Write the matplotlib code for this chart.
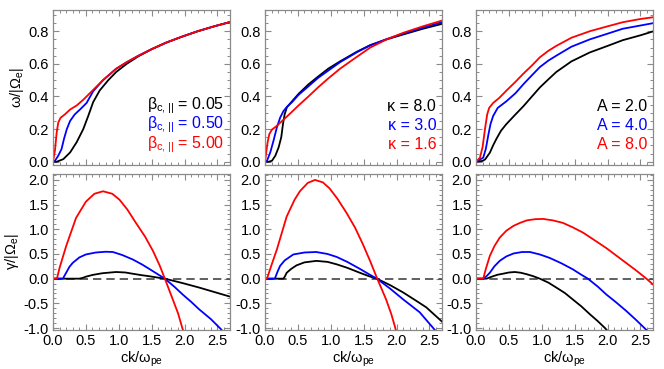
import matplotlib
matplotlib.use("Agg")
import matplotlib.pyplot as plt
from matplotlib.ticker import MultipleLocator, FormatStrFormatter

plt.rcParams['font.family'] = ['Liberation Sans', 'DejaVu Sans']
plt.rcParams['mathtext.fontset'] = 'custom'
plt.rcParams['mathtext.rm'] = 'Liberation Sans'

# ---------------- data ----------------
# Panel 1: beta_c,|| variation
p1_omega_black_k = [0.0, 0.056, 0.157, 0.26, 0.36, 0.46, 0.535, 0.61, 0.71, 0.84, 0.96, 1.12, 1.3, 1.5, 1.72, 1.95, 2.2, 2.45, 2.68]
p1_omega_black_w = [0.0, 0.0, 0.016, 0.057, 0.12, 0.20, 0.28, 0.365, 0.437, 0.50, 0.55, 0.60, 0.647, 0.69, 0.73, 0.765, 0.80, 0.83, 0.855]
p1_omega_blue_k = [0.0, 0.03, 0.08, 0.13, 0.167, 0.21, 0.26, 0.33, 0.41, 0.51, 0.61, 0.76, 0.96, 1.12, 1.3, 1.5, 1.72, 1.95, 2.2, 2.45, 2.68]
p1_omega_blue_w = [0.0, 0.006, 0.037, 0.078, 0.14, 0.20, 0.25, 0.29, 0.32, 0.36, 0.432, 0.50, 0.57, 0.61, 0.65, 0.69, 0.73, 0.765, 0.80, 0.83, 0.855]
p1_omega_red_k = [0.0, 0.03, 0.056, 0.08, 0.116, 0.18, 0.26, 0.36, 0.46, 0.61, 0.76, 0.96, 1.12, 1.3, 1.5, 1.72, 1.95, 2.2, 2.45, 2.68]
p1_omega_red_w = [0.0, 0.07, 0.18, 0.24, 0.27, 0.29, 0.32, 0.345, 0.38, 0.44, 0.50, 0.57, 0.61, 0.65, 0.69, 0.73, 0.765, 0.80, 0.83, 0.855]

p1_gamma_black_k = [0.0, 0.4, 0.45, 0.5, 0.6, 0.75, 0.96, 1.1, 1.21, 1.35, 1.46, 1.60, 1.70, 1.85, 1.97, 2.22, 2.45, 2.68]
p1_gamma_black_g = [0.0, 0.0, 0.015, 0.04, 0.075, 0.11, 0.135, 0.125, 0.10, 0.07, 0.05, 0.02, 0.0, -0.05, -0.09, -0.18, -0.27, -0.36]
p1_gamma_blue_k = [0.0, 0.15, 0.2, 0.25, 0.3, 0.4, 0.5, 0.65, 0.8, 0.91, 1.05, 1.21, 1.35, 1.46, 1.58, 1.70, 1.85, 1.97, 2.1, 2.22, 2.4, 2.55, 2.6]
p1_gamma_blue_g = [0.0, 0.0, 0.12, 0.24, 0.32, 0.43, 0.49, 0.53, 0.545, 0.54, 0.48, 0.39, 0.29, 0.20, 0.10, 0.0, -0.17, -0.32, -0.47, -0.62, -0.82, -1.02, -1.1]
p1_gamma_red_k = [0.0, 0.06, 0.1, 0.2, 0.35, 0.5, 0.63, 0.76, 0.9, 1.01, 1.13, 1.26, 1.4, 1.52, 1.62, 1.70, 1.82, 1.9, 1.97, 2.0]
p1_gamma_red_g = [0.0, 0.0, 0.22, 0.66, 1.23, 1.56, 1.72, 1.77, 1.72, 1.60, 1.40, 1.13, 0.85, 0.56, 0.27, 0.0, -0.42, -0.70, -1.02, -1.15]

# Panel 2: kappa variation
p2_omega_black_k = [0.0, 0.056, 0.106, 0.157, 0.207, 0.247, 0.273, 0.298, 0.333, 0.41, 0.51, 0.66, 0.81, 0.96, 1.14, 1.4, 1.6, 1.85, 2.1, 2.4, 2.69]
p2_omega_black_w = [0.0, 0.0, 0.006, 0.037, 0.088, 0.15, 0.23, 0.29, 0.334, 0.37, 0.416, 0.474, 0.523, 0.57, 0.615, 0.675, 0.715, 0.75, 0.78, 0.815, 0.845]
p2_omega_blue_k = [0.0, 0.03, 0.08, 0.13, 0.18, 0.23, 0.28, 0.33, 0.41, 0.51, 0.81, 1.14, 1.4, 1.6, 1.85, 2.1, 2.4, 2.69]
p2_omega_blue_w = [0.0, 0.006, 0.057, 0.13, 0.21, 0.27, 0.31, 0.335, 0.365, 0.41, 0.515, 0.61, 0.672, 0.713, 0.752, 0.785, 0.822, 0.855]
p2_omega_red_k = [0.0, 0.015, 0.04, 0.066, 0.106, 0.18, 0.26, 0.36, 0.51, 0.66, 0.81, 0.96, 1.14, 1.35, 1.6, 1.85, 2.1, 2.4, 2.69]
p2_omega_red_w = [0.0, 0.047, 0.12, 0.17, 0.197, 0.22, 0.25, 0.287, 0.345, 0.40, 0.457, 0.51, 0.57, 0.63, 0.70, 0.75, 0.79, 0.83, 0.865]

p2_gamma_black_k = [0.0, 0.28, 0.3, 0.33, 0.4, 0.48, 0.6, 0.78, 0.95, 1.09, 1.25, 1.44, 1.58, 1.70, 1.9, 2.1, 2.3, 2.45, 2.69]
p2_gamma_black_g = [0.0, 0.0, 0.04, 0.12, 0.20, 0.27, 0.33, 0.36, 0.34, 0.29, 0.22, 0.12, 0.05, 0.0, -0.13, -0.28, -0.45, -0.58, -0.87]
p2_gamma_blue_k = [0.0, 0.15, 0.19, 0.23, 0.3, 0.43, 0.6, 0.78, 0.95, 1.09, 1.25, 1.44, 1.58, 1.70, 1.9, 2.1, 2.35, 2.55, 2.6]
p2_gamma_blue_g = [0.0, 0.0, 0.14, 0.26, 0.37, 0.49, 0.53, 0.54, 0.50, 0.44, 0.34, 0.20, 0.09, 0.0, -0.20, -0.42, -0.68, -0.99, -1.07]
p2_gamma_red_k = [0.0, 0.03, 0.1, 0.18, 0.33, 0.45, 0.53, 0.65, 0.76, 0.88, 0.98, 1.1, 1.24, 1.37, 1.49, 1.6, 1.69, 1.77, 1.84, 1.92, 1.97, 2.0]
p2_gamma_red_g = [0.0, 0.0, 0.28, 0.59, 1.26, 1.60, 1.77, 1.94, 2.0, 1.95, 1.83, 1.62, 1.33, 1.03, 0.69, 0.35, 0.05, -0.20, -0.42, -0.72, -0.95, -1.1]

# Panel 3: A variation
p3_omega_black_k = [0.0, 0.1, 0.14, 0.21, 0.26, 0.31, 0.38, 0.46, 0.6, 0.72, 0.85, 0.97, 1.1, 1.22, 1.45, 1.73, 2.0, 2.23, 2.5, 2.70]
p3_omega_black_w = [0.0, 0.005, 0.015, 0.055, 0.10, 0.14, 0.19, 0.23, 0.29, 0.34, 0.40, 0.455, 0.505, 0.55, 0.615, 0.67, 0.71, 0.745, 0.775, 0.80]
p3_omega_blue_k = [0.0, 0.11, 0.15, 0.19, 0.22, 0.26, 0.33, 0.46, 0.6, 0.72, 0.85, 0.97, 1.1, 1.22, 1.45, 1.73, 2.0, 2.23, 2.5, 2.70]
p3_omega_blue_w = [0.0, 0.025, 0.08, 0.17, 0.23, 0.28, 0.33, 0.37, 0.42, 0.475, 0.53, 0.58, 0.62, 0.65, 0.705, 0.75, 0.785, 0.815, 0.835, 0.85]
p3_omega_red_k = [0.0, 0.06, 0.1, 0.14, 0.17, 0.2, 0.26, 0.35, 0.46, 0.6, 0.72, 0.85, 0.97, 1.1, 1.22, 1.45, 1.73, 2.0, 2.23, 2.5, 2.70]
p3_omega_red_w = [0.0, 0.025, 0.09, 0.21, 0.29, 0.33, 0.36, 0.39, 0.435, 0.49, 0.54, 0.59, 0.64, 0.68, 0.71, 0.76, 0.80, 0.83, 0.855, 0.875, 0.886]

p3_gamma_black_k = [0.0, 0.16, 0.2, 0.26, 0.33, 0.41, 0.5, 0.59, 0.68, 0.77, 0.87, 0.97, 1.1, 1.22, 1.35, 1.47, 1.6, 1.73, 1.85, 1.96, 2.0]
p3_gamma_black_g = [0.0, 0.0, 0.02, 0.05, 0.08, 0.10, 0.125, 0.135, 0.12, 0.09, 0.05, 0.0, -0.08, -0.18, -0.29, -0.42, -0.56, -0.72, -0.86, -1.0, -1.06]
p3_gamma_blue_k = [0.0, 0.11, 0.16, 0.21, 0.28, 0.36, 0.46, 0.57, 0.7, 0.82, 0.97, 1.12, 1.3, 1.47, 1.6, 1.70, 1.85, 1.98, 2.13, 2.28, 2.42, 2.56, 2.62]
p3_gamma_blue_g = [0.0, 0.0, 0.05, 0.12, 0.25, 0.36, 0.45, 0.51, 0.54, 0.54, 0.49, 0.42, 0.31, 0.19, 0.08, 0.0, -0.16, -0.32, -0.48, -0.65, -0.82, -1.0, -1.08]
p3_gamma_red_k = [0.0, 0.11, 0.15, 0.21, 0.28, 0.36, 0.46, 0.57, 0.67, 0.77, 0.9, 1.02, 1.17, 1.32, 1.47, 1.63, 1.8, 1.98, 2.13, 2.28, 2.44, 2.59, 2.70]
p3_gamma_red_g = [0.0, 0.0, 0.2, 0.46, 0.66, 0.83, 0.97, 1.07, 1.13, 1.18, 1.205, 1.21, 1.18, 1.13, 1.04, 0.93, 0.78, 0.62, 0.47, 0.32, 0.16, 0.0, -0.13]

legend_labels = [
    [r'β$_{\mathregular{c,||}}$ = 0.05', r'β$_{\mathregular{c,||}}$ = 0.50', r'β$_{\mathregular{c,||}}$ = 5.00'],
    ['κ = 8.0', 'κ = 3.0', 'κ = 1.6'],
    ['A = 2.0', 'A = 4.0', 'A = 8.0'],
]
colors = ['black', 'blue', 'red']

omega_data = [
    [(p1_omega_black_k, p1_omega_black_w), (p1_omega_blue_k, p1_omega_blue_w), (p1_omega_red_k, p1_omega_red_w)],
    [(p2_omega_black_k, p2_omega_black_w), (p2_omega_blue_k, p2_omega_blue_w), (p2_omega_red_k, p2_omega_red_w)],
    [(p3_omega_black_k, p3_omega_black_w), (p3_omega_blue_k, p3_omega_blue_w), (p3_omega_red_k, p3_omega_red_w)],
]
gamma_data = [
    [(p1_gamma_black_k, p1_gamma_black_g), (p1_gamma_blue_k, p1_gamma_blue_g), (p1_gamma_red_k, p1_gamma_red_g)],
    [(p2_gamma_black_k, p2_gamma_black_g), (p2_gamma_blue_k, p2_gamma_blue_g), (p2_gamma_red_k, p2_gamma_red_g)],
    [(p3_gamma_black_k, p3_gamma_black_g), (p3_gamma_blue_k, p3_gamma_blue_g), (p3_gamma_red_k, p3_gamma_red_g)],
]

# ---------------- figure ----------------
fig = plt.figure(figsize=(6.64, 3.69), dpi=100)
lefts = [53 / 664, 265 / 664, 476 / 664]
width = 177 / 664
top_bottom, top_h = 1 - 165 / 369, 155 / 369
bot_bottom, bot_h = 1 - 330 / 369, 156 / 369
frame_col = '#8a8a8a'
xmax = 2.69
fs = 10.5


def style(ax):
    for s in ax.spines.values():
        s.set_color(frame_col)
        s.set_linewidth(0.9)
    ax.tick_params(which='both', direction='in', top=True, right=True,
                   color=frame_col, labelsize=fs, pad=3)
    ax.tick_params(which='major', length=4.5, width=0.8)
    ax.tick_params(which='minor', length=2.2, width=0.7)
    ax.xaxis.set_major_locator(MultipleLocator(0.5))
    ax.xaxis.set_minor_locator(MultipleLocator(0.1))


for i in range(3):
    axt = fig.add_axes([lefts[i], top_bottom, width, top_h])
    axb = fig.add_axes([lefts[i], bot_bottom, width, bot_h])
    for (k, w), c in zip(omega_data[i], colors):
        axt.plot(k, w, color=c, lw=1.3, solid_joinstyle='round')
    axb.axhline(0.0, color='#444444', lw=1.2, ls=(0, (5, 3)))
    for (k, g), c in zip(gamma_data[i], colors):
        axb.plot(k, g, color=c, lw=1.3, solid_joinstyle='round')
    for ax in (axt, axb):
        style(ax)
        ax.set_xlim(0, xmax)
    axt.set_ylim(-0.02, 0.93)
    axt.yaxis.set_major_locator(MultipleLocator(0.2))
    axt.yaxis.set_minor_locator(MultipleLocator(0.05))
    axt.set_xticklabels([])
    axt.yaxis.set_major_formatter(FormatStrFormatter('%.1f'))
    axb.set_ylim(-1.04, 2.12)
    axb.yaxis.set_major_locator(MultipleLocator(0.5))
    axb.yaxis.set_minor_locator(MultipleLocator(0.1))
    axb.yaxis.set_major_formatter(FormatStrFormatter('%.1f'))
    axb.xaxis.set_major_formatter(FormatStrFormatter('%.1f'))
    axb.set_xlabel(r'ck/ω$_{\mathregular{pe}}$', fontsize=fs, labelpad=1)
    for j, (lab, c) in enumerate(zip(legend_labels[i], colors)):
        axt.text(0.967, 0.38 - j * 0.123, lab, color=c, fontsize=11.5,
                 ha='right', va='center', transform=axt.transAxes)
    if i == 0:
        axt.set_ylabel(r'ω/|Ω$_{\mathregular{e}}$|', fontsize=fs, labelpad=2)
        axb.set_ylabel(r'γ/|Ω$_{\mathregular{e}}$|', fontsize=fs, labelpad=2)

fig.savefig('out.png', dpi=100)
